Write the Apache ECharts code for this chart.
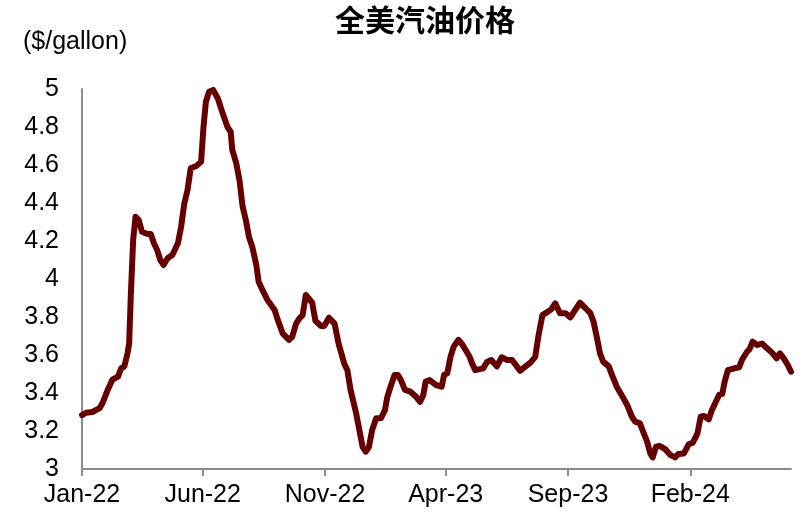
<!DOCTYPE html>
<html>
<head>
<meta charset="utf-8">
<script src="https://cdn.jsdelivr.net/npm/echarts@6/dist/echarts.min.js"></script>
<style>html,body{margin:0;padding:0;background:#fff}#c{width:812px;height:522px}</style>
</head>
<body>
<div id="c"></div>
<script>
// Data
const dates = [
'2022-01-01','2022-01-06','2022-01-14','2022-01-23','2022-01-27','2022-02-02','2022-02-08','2022-02-15','2022-02-19','2022-02-23',
'2022-02-27','2022-03-01','2022-03-03','2022-03-06','2022-03-09','2022-03-13','2022-03-17','2022-03-24','2022-03-28','2022-04-01',
'2022-04-05','2022-04-09','2022-04-13','2022-04-18','2022-04-24','2022-05-01','2022-05-05','2022-05-09','2022-05-13','2022-05-17',
'2022-05-24','2022-05-30','2022-06-02','2022-06-05','2022-06-09','2022-06-14','2022-06-20','2022-06-26','2022-07-02','2022-07-06',
'2022-07-08','2022-07-13','2022-07-17','2022-07-21','2022-07-25','2022-07-29','2022-08-02','2022-08-07','2022-08-10','2022-08-15',
'2022-08-21','2022-08-30','2022-09-03','2022-09-09','2022-09-17','2022-09-21','2022-09-26','2022-09-30','2022-10-04','2022-10-08',
'2022-10-16','2022-10-20','2022-10-27','2022-10-31','2022-11-06','2022-11-13','2022-11-18','2022-11-25','2022-11-29','2022-12-03',
'2022-12-10','2022-12-14','2022-12-18','2022-12-22','2022-12-26','2022-12-30','2023-01-04','2023-01-10','2023-01-15','2023-01-18',
'2023-01-22','2023-01-27','2023-01-31','2023-02-04','2023-02-09','2023-02-16','2023-02-23','2023-02-28','2023-03-04','2023-03-07',
'2023-03-12','2023-03-20','2023-03-27','2023-03-30','2023-04-03','2023-04-07','2023-04-11','2023-04-17','2023-04-21','2023-04-26',
'2023-05-01','2023-05-04','2023-05-08','2023-05-14','2023-05-18','2023-05-23','2023-05-28','2023-06-04','2023-06-10','2023-06-17',
'2023-06-23','2023-06-29','2023-07-03','2023-07-10','2023-07-16','2023-07-22','2023-07-26','2023-07-31','2023-08-07','2023-08-11',
'2023-08-16','2023-08-22','2023-08-29','2023-09-04','2023-09-10','2023-09-16','2023-09-23','2023-09-29','2023-10-03','2023-10-07',
'2023-10-11','2023-10-15','2023-10-22','2023-10-26','2023-11-01','2023-11-07','2023-11-14','2023-11-20','2023-11-24','2023-11-30',
'2023-12-04','2023-12-09','2023-12-13','2023-12-16','2023-12-20','2023-12-25','2024-01-01','2024-01-07','2024-01-13','2024-01-17',
'2024-01-24','2024-01-30','2024-02-04','2024-02-10','2024-02-14','2024-02-18','2024-02-24','2024-02-28','2024-03-04','2024-03-08',
'2024-03-12','2024-03-15','2024-03-19','2024-03-27','2024-04-02','2024-04-06','2024-04-12','2024-04-15','2024-04-19','2024-04-25',
'2024-05-01','2024-05-07','2024-05-14','2024-05-19','2024-05-23','2024-05-28','2024-06-02','2024-06-06'
];
const prices = [
3.284,3.296,3.30,3.32,3.35,3.415,3.47,3.486,3.53,3.54,
3.61,3.66,3.907,4.205,4.328,4.31,4.249,4.237,4.237,4.188,
4.153,4.10,4.074,4.109,4.126,4.188,4.275,4.398,4.468,4.583,
4.595,4.617,4.80,4.933,4.986,4.995,4.95,4.872,4.80,4.775,
4.68,4.61,4.52,4.38,4.31,4.22,4.17,4.074,3.986,3.94,
3.89,3.837,3.784,3.714,3.68,3.696,3.767,3.793,3.81,3.916,
3.875,3.78,3.753,3.753,3.796,3.765,3.66,3.556,3.52,3.416,
3.293,3.205,3.117,3.091,3.117,3.205,3.267,3.267,3.31,3.38,
3.433,3.495,3.495,3.468,3.416,3.407,3.38,3.354,3.39,3.46,
3.468,3.442,3.433,3.495,3.504,3.59,3.644,3.68,3.66,3.626,
3.59,3.556,3.52,3.526,3.53,3.565,3.574,3.54,3.588,3.574,
3.574,3.54,3.517,3.54,3.56,3.59,3.70,3.81,3.828,3.84,
3.872,3.82,3.82,3.798,3.837,3.875,3.846,3.82,3.775,3.696,
3.609,3.565,3.54,3.495,3.433,3.39,3.337,3.275,3.249,3.24,
3.196,3.144,3.082,3.061,3.117,3.121,3.103,3.074,3.061,3.079,
3.082,3.13,3.138,3.188,3.275,3.279,3.261,3.31,3.354,3.39,
3.395,3.46,3.52,3.53,3.535,3.577,3.617,3.63,3.67,3.653,
3.66,3.635,3.609,3.582,3.609,3.582,3.547,3.512
];
const tickMonths = ['2022-01','2022-06','2022-11','2023-04','2023-09','2024-02'];
const axisStart = '2022-01-01';
const axisEnd = '2024-06-06';
const yMin = 3, yMax = 5, yStep = 0.2;
const titleText = '全美汽油价格';
const unitText = '($/gallon)';

const monthNames = ['Jan','Feb','Mar','Apr','May','Jun','Jul','Aug','Sep','Oct','Nov','Dec'];
function parseUTC(s){const p=s.split('-').map(Number);return Date.UTC(p[0],p[1]-1,p[2]||1);}
const tickValues = tickMonths.map(parseUTC);
const seriesData = dates.map((d,i)=>[parseUTC(d), prices[i]]);

const chart = echarts.init(document.getElementById('c'), null, {renderer:'canvas'});
const latin = "'Liberation Sans', Arial, sans-serif";
chart.setOption({
  animation:false,
  backgroundColor:'#ffffff',
  grid:{left:82, right:21, top:89, bottom:53, containLabel:false},
  xAxis:{
    type:'value',
    min:parseUTC(axisStart),
    max:parseUTC(axisEnd),
    splitLine:{show:false},
    axisLine:{show:true, lineStyle:{color:'#8c8c8c', width:2}},
    axisTick:{show:true, customValues:tickValues, length:7, inside:false, lineStyle:{color:'#8c8c8c', width:2}},
    axisLabel:{
      customValues:tickValues,
      margin:14,
      color:'#000', fontSize:25, fontFamily:latin,
      hideOverlap:false,
      formatter:function(v){const d=new Date(v);return monthNames[d.getUTCMonth()]+'-'+String(d.getUTCFullYear()).slice(2);}
    }
  },
  yAxis:{
    type:'value',
    min:yMin, max:yMax, interval:yStep,
    splitLine:{show:false},
    axisLine:{show:true, lineStyle:{color:'#8c8c8c', width:2}},
    axisTick:{show:false},
    axisLabel:{margin:23, color:'#000', fontSize:25, fontFamily:latin,
      formatter:function(v){return String(Math.round(v*10)/10);}}
  },
  series:[{
    type:'line',
    data:seriesData,
    showSymbol:false,
    symbol:'none',
    smooth:false,
    lineStyle:{color:'#660000', width:6, join:'round', cap:'round'},
    itemStyle:{color:'#660000'}
  }],
  graphic:[
    {type:'text', x:425, y:20, style:{text:titleText, fill:'#000', font:"bold 30px 'Noto Sans CJK SC', sans-serif", textAlign:'center', textVerticalAlign:'middle'}},
    {type:'text', x:23, y:42, style:{text:unitText, fill:'#000', font:"25px 'Liberation Sans', Arial, sans-serif", textAlign:'left', textVerticalAlign:'middle'}}
  ]
});
</script>
</body>
</html>
